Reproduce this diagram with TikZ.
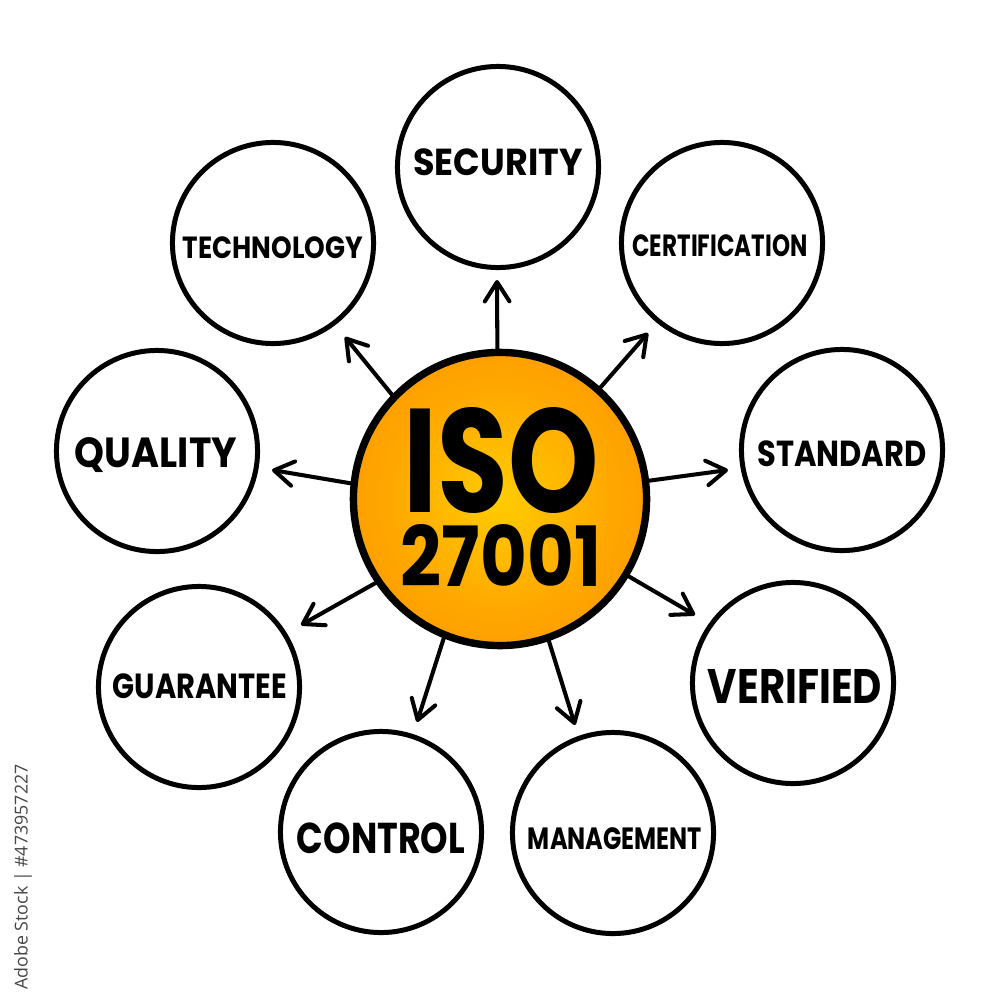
\documentclass[tikz,border=0pt]{standalone}
\usepackage{fontspec}
\usepackage{graphicx}
\usetikzlibrary{arrows.meta}
\newfontfamily\handfont{Poppins}
\newfontfamily\stockfont{Open Sans}
\definecolor{isoY}{RGB}{255,204,0}
\definecolor{isoM}{RGB}{255,166,0}
\definecolor{isoO}{RGB}{244,130,0}
\definecolor{stockgray}{RGB}{70,70,70}
\pgfdeclareradialshading{isoshade}{\pgfpoint{0bp}{0bp}}{color(0bp)=(isoY); color(20bp)=(isoM); color(50bp)=(isoO); color(75bp)=(isoO)}
\newcommand{\fitlbl}[3]{\resizebox*{#1}{#2}{\handfont\bfseries #3}}

\begin{document}
\begin{tikzpicture}[x=0.01cm,y=-0.01cm,
  topic/.style={circle, draw=black, line width=1.42pt, minimum size=2.01cm, inner sep=0pt, fill=white},
  hub/.style={circle, draw=black, line width=2.1pt, minimum size=2.93cm, inner sep=0pt, shading=isoshade},
  lbl/.style={inner sep=0pt, outer sep=0pt},
  conn/.style={line width=1.15pt, line cap=round, line join=round,
    -{Straight Barb[length=5.5pt,width=7pt,line cap=round,line join=round]}}
]
\useasboundingbox (0,0) rectangle (1000,1000);

% outer circles
\node[topic] (sec)  at (498,167) {};
\node[topic] (tech) at (273,243) {};
\node[topic] (cert) at (722,243) {};
\node[topic] (qual) at (157,451) {};
\node[topic] (stan) at (842,450) {};
\node[topic] (guar) at (199,687) {};
\node[topic] (veri) at (793,683) {};
\node[topic] (ctrl) at (381,832) {};
\node[topic] (mgmt) at (613,833) {};

% labels
\node[lbl] (secT)  at (498,162) {\fitlbl{1.69cm}{0.27cm}{SECURITY}};
\node[lbl] (techT) at (273,248) {\fitlbl{1.80cm}{0.22cm}{TECHNOLOGY}};
\node[lbl] (certT) at (720,246) {\fitlbl{1.75cm}{0.22cm}{CERTIFICATION}};
\node[lbl] (qualT) at (156,455) {\fitlbl{1.62cm}{0.35cm}{QUALITY}};
\node[lbl] (stanT) at (842,454) {\fitlbl{1.69cm}{0.26cm}{STANDARD}};
\node[lbl] (guarT) at (200,686) {\fitlbl{1.74cm}{0.25cm}{GUARANTEE}};
\node[lbl] (veriT) at (795,686) {\fitlbl{1.74cm}{0.34cm}{VERIFIED}};
\node[lbl] (ctrlT) at (381,838) {\fitlbl{1.68cm}{0.31cm}{CONTROL}};
\node[lbl] (mgmtT) at (615,839) {\fitlbl{1.74cm}{0.22cm}{MANAGEMENT}};

% hub
\node[hub] (hub) at (500,499) {};
\node[lbl, align=center] (isoT) at (501,497)
  {\fitlbl{1.95cm}{1.06cm}{ISO}\\[1.85pt]\fitlbl{2.00cm}{0.62cm}{27001}};

% arrow tips
\coordinate (tSec)  at (497,280);
\coordinate (tTech) at (345,337);
\coordinate (tCert) at (648,333);
\coordinate (tQual) at (272,470);
\coordinate (tStan) at (728,470);
\coordinate (tGuar) at (301,625);
\coordinate (tVeri) at (695,615);
\coordinate (tCtrl) at (417,722);
\coordinate (tMgmt) at (575,725);

\draw[conn] (hub.91)    -- (tSec);
\draw[conn] (hub.136)   -- (tTech);
\draw[conn] (hub.48.6)  -- (tCert);
\draw[conn] (hub.174.7) -- (tQual);
\draw[conn] (hub.7.2)   -- (tStan);
\draw[conn] (hub.214)   -- (tGuar);
\draw[conn] (hub.-31)   -- (tVeri);
\draw[conn] (hub.248.7) -- (tCtrl);
\draw[conn] (hub.-71.6) -- (tMgmt);

% stock credit
\node[lbl, rotate=90, text=stockgray] (stock) at (23,877) {\resizebox{2.25cm}{!}{\stockfont Adobe Stock | \#473957227}};
\end{tikzpicture}
\end{document}
